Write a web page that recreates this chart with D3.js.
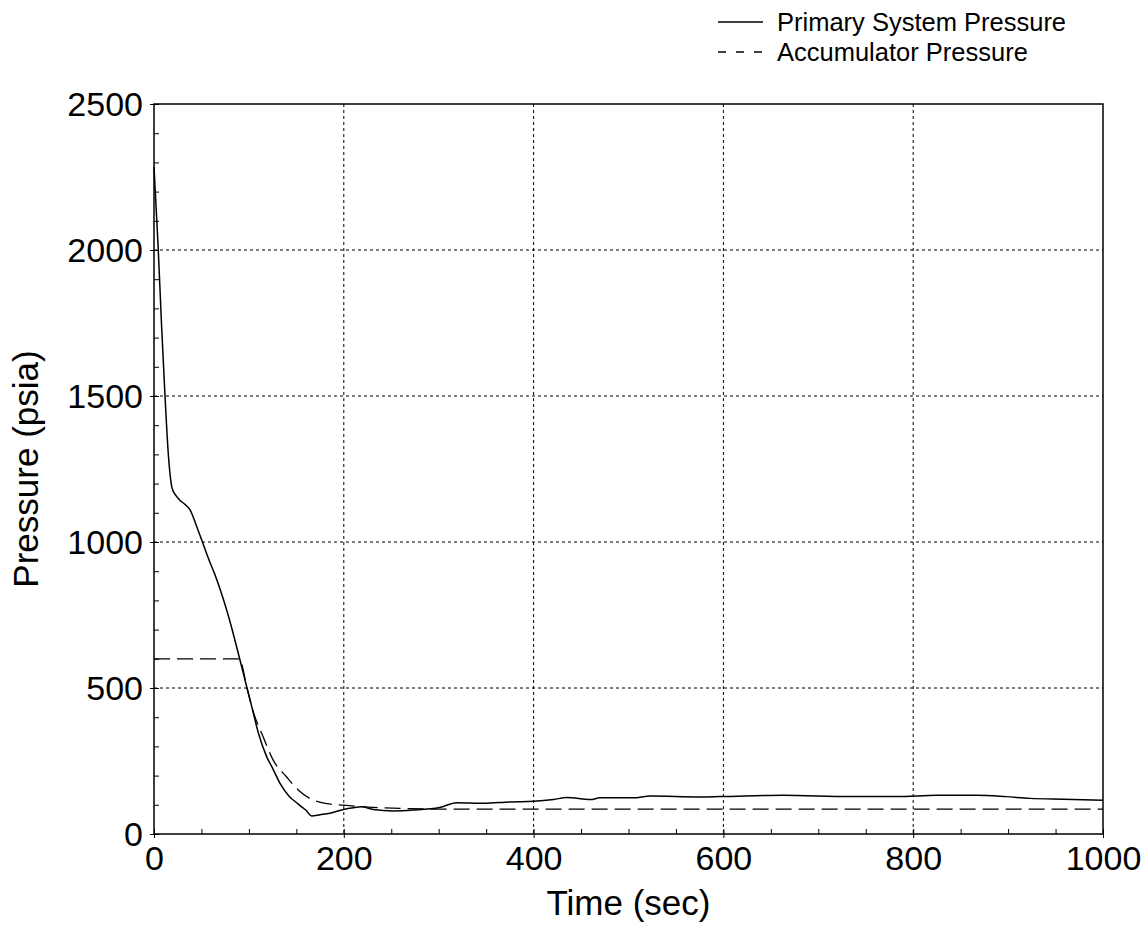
<!DOCTYPE html>
<html>
<head>
<meta charset="utf-8">
<script src="https://cdn.jsdelivr.net/npm/d3@7"></script>
<style>
  body { margin: 0; background: #fff; }
  text { font-family: "Liberation Sans", Arial, sans-serif; fill: #000; }
</style>
</head>
<body>
<script>
var width = 1148;
var height = 930;

// data
var primaryTime = [0, 2, 4.5, 8, 11.6, 15, 17, 19, 23, 27, 33, 38, 44, 51, 59, 64, 70, 76.6, 84, 90.6, 98, 104, 110, 118.8, 125, 132.8, 143, 150, 155.6, 160, 166, 175, 185.4, 199.5, 210, 219, 231, 252, 273, 301, 319, 347, 375, 400, 421, 435, 460, 470, 505, 523, 575, 596, 663, 733, 783, 825, 867, 898, 923, 958, 1000];
var primaryPressure = [2284, 2160, 2000, 1740, 1500, 1305, 1230, 1185, 1160, 1144, 1128, 1110, 1062, 1000, 930, 890, 835, 767, 680, 596, 500, 423, 346, 264, 225, 173, 127, 108, 93, 82, 62, 66, 71, 84, 90, 93, 84, 79, 82, 91, 107, 105, 110, 112, 118, 125, 118, 124, 124, 130, 127, 128, 133, 128, 128, 133, 133, 128, 122, 119, 116];

var accumTime = [0, 90, 98, 105, 115, 125.6, 139.6, 152, 164, 182, 199.5, 231, 266, 300, 1000];
var accumPressure = [600, 600, 500, 415, 333, 253, 196, 151, 122, 104, 99, 91, 87, 85, 85];

var xTicks = [0, 200, 400, 600, 800, 1000];
var yTicks = [0, 500, 1000, 1500, 2000, 2500];
var seriesNames = ["Primary System Pressure", "Accumulator Pressure"];

var plotLeft = 154, plotRight = 1103, plotTop = 104, plotBottom = 834;

var canvas = d3.select("body")
    .append("svg")
    .attr("width", width)
    .attr("height", height);

var x = d3.scaleLinear().domain([0, 1000]).range([plotLeft, plotRight]);
var y = d3.scaleLinear().domain([0, 2500]).range([plotBottom, plotTop]);

// grid lines (dotted)
canvas.append("g")
    .selectAll("line")
    .data(xTicks.slice(1, -1))
    .enter().append("line")
    .attr("x1", function(d) { return x(d); })
    .attr("x2", function(d) { return x(d); })
    .attr("y1", plotTop)
    .attr("y2", plotBottom)
    .attr("stroke", "#000")
    .attr("stroke-width", 1)
    .attr("stroke-dasharray", "3,3");

canvas.append("g")
    .selectAll("line")
    .data(yTicks.slice(1, -1))
    .enter().append("line")
    .attr("x1", plotLeft)
    .attr("x2", plotRight)
    .attr("y1", function(d) { return y(d); })
    .attr("y2", function(d) { return y(d); })
    .attr("stroke", "#000")
    .attr("stroke-width", 1)
    .attr("stroke-dasharray", "3,3");

// minor ticks inside the frame
var xMinor = canvas.append("g")
    .attr("transform", "translate(0," + plotBottom + ")")
    .call(d3.axisBottom(x).ticks(20).tickSize(-5).tickFormat(""));
xMinor.select(".domain").remove();

var yMinor = canvas.append("g")
    .attr("transform", "translate(" + plotLeft + ",0)")
    .call(d3.axisLeft(y).ticks(25).tickSize(-5).tickFormat(""));
yMinor.select(".domain").remove();

// labelled axes
var xAxis = canvas.append("g")
    .attr("transform", "translate(0," + plotBottom + ")")
    .call(d3.axisBottom(x).tickValues(xTicks).tickSize(4).tickPadding(8).tickFormat(d3.format("d")));
xAxis.select(".domain").remove();
xAxis.selectAll("text").style("font-size", "34px").attr("fill", "#000");

var yAxis = canvas.append("g")
    .attr("transform", "translate(" + plotLeft + ",0)")
    .call(d3.axisLeft(y).tickValues(yTicks).tickSize(4).tickPadding(7).tickFormat(d3.format("d")));
yAxis.select(".domain").remove();
yAxis.selectAll("text").style("font-size", "34px").attr("fill", "#000").attr("dy", "0.34em");

canvas.selectAll(".tick line").attr("stroke", "#000");

// frame
canvas.append("rect")
    .attr("x", plotLeft)
    .attr("y", plotTop)
    .attr("width", plotRight - plotLeft)
    .attr("height", plotBottom - plotTop)
    .attr("fill", "none")
    .attr("stroke", "#000")
    .attr("stroke-width", 1.5);

// series
var line = d3.line()
    .curve(d3.curveMonotoneX)
    .x(function(d) { return x(d[0]); })
    .y(function(d) { return y(d[1]); });

canvas.append("path")
    .datum(d3.zip(primaryTime, primaryPressure))
    .attr("d", line)
    .attr("fill", "none")
    .attr("stroke", "#000")
    .attr("stroke-width", 1.5);

canvas.append("path")
    .datum(d3.zip(accumTime, accumPressure))
    .attr("d", line)
    .attr("fill", "none")
    .attr("stroke", "#000")
    .attr("stroke-width", 1.3)
    .attr("stroke-dasharray", "16,7");

// axis titles
canvas.append("text")
    .attr("x", (plotLeft + plotRight) / 2)
    .attr("y", 915)
    .attr("text-anchor", "middle")
    .style("font-size", "35px")
    .text("Time (sec)");

canvas.append("text")
    .attr("transform", "translate(38," + ((plotTop + plotBottom) / 2) + ") rotate(-90)")
    .attr("text-anchor", "middle")
    .style("font-size", "35px")
    .text("Pressure (psia)");

// legend
var legendY = [22, 52];
var legendDash = [null, "8,10"];
for (var i = 0; i < seriesNames.length; i++) {
    canvas.append("line")
        .attr("x1", 718)
        .attr("x2", 763)
        .attr("y1", legendY[i])
        .attr("y2", legendY[i])
        .attr("stroke", "#000")
        .attr("stroke-width", 1.3)
        .attr("stroke-dasharray", legendDash[i]);
    canvas.append("text")
        .attr("x", 777)
        .attr("y", legendY[i] + 9)
        .style("font-size", "25.5px")
        .text(seriesNames[i]);
}
</script>
</body>
</html>
